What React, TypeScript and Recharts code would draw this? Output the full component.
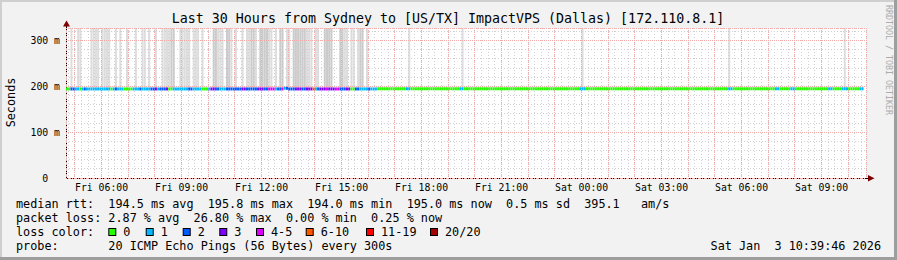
import React from 'react';
import { ComposedChart, Bar, XAxis, YAxis, CartesianGrid } from 'recharts';

// 5 minute steps from Fri 04:40 to Sat 10:40
const STEP_COUNT = 360;
const STEP_MIN = 5;

// [firstStep, lastStep, lossClass]
const lossRuns: [number, number, number][] = [
  [0, 1, 0], [2, 3, 2], [4, 5, 1], [6, 6, 0], [7, 7, 1], [8, 8, 2], [9, 19, 1],
  [20, 20, 0], [21, 21, 1], [22, 22, 2], [23, 25, 1], [26, 29, 0], [30, 32, 1],
  [33, 33, 2], [34, 37, 1], [38, 39, 2], [40, 40, 3], [41, 41, 1], [42, 44, 2],
  [45, 45, 3], [46, 47, 0], [48, 54, 1], [55, 56, 2], [57, 60, 1], [61, 63, 0],
  [64, 64, 1], [65, 66, 3], [67, 68, 2], [69, 71, 1], [72, 78, 2], [79, 80, 3],
  [81, 85, 2], [86, 88, 3], [89, 90, 2], [91, 93, 4], [94, 94, 1], [95, 96, 2],
  [97, 97, 4], [98, 98, 1], [99, 102, 2], [103, 105, 3], [106, 107, 2],
  [108, 110, 3], [111, 111, 5], [112, 112, 1], [113, 113, 2], [114, 116, 3],
  [117, 117, 4], [118, 120, 3], [121, 122, 4], [123, 125, 2], [126, 127, 3],
  [128, 129, 0], [130, 131, 2], [132, 135, 1], [136, 136, 2], [137, 139, 1],
  [140, 152, 0], [153, 154, 1], [155, 176, 0], [177, 178, 1], [179, 230, 0],
  [231, 233, 1], [234, 297, 0], [298, 299, 1], [300, 318, 0], [319, 320, 1],
  [321, 325, 0], [326, 327, 1], [328, 342, 0], [343, 344, 1], [345, 348, 0],
  [349, 351, 1], [352, 356, 0], [357, 358, 1],
];

// [firstStep, lastStep, median ms]
const medianRuns: [number, number, number][] = [
  [0, 97, 194.3], [98, 99, 195.8], [100, 139, 194.3], [140, 358, 194.7],
];

// [firstStep, lastStep, shade] - smoke reaching past the top of the graph
const smokeRuns: [number, number, number][] = [
  [2, 2, 1], [5, 5, 1], [6, 6, 1], [11, 14, 1], [16, 19, 1], [22, 22, 1], [24, 24, 1],
  [27, 27, 1], [31, 31, 1], [34, 35, 1], [37, 37, 1], [40, 40, 1], [43, 46, 1],
  [47, 48, 2], [51, 55, 1], [57, 59, 1], [61, 61, 1], [66, 67, 2], [68, 70, 1],
  [72, 73, 2], [74, 74, 1], [76, 76, 1], [79, 79, 1], [81, 82, 1], [83, 84, 2],
  [85, 85, 1], [87, 90, 2], [91, 92, 1], [94, 94, 1], [96, 97, 2], [99, 100, 1],
  [102, 107, 2], [108, 110, 1], [112, 113, 1], [116, 119, 2], [123, 124, 2],
  [125, 126, 1], [128, 129, 1], [131, 131, 1], [132, 133, 2], [135, 135, 1],
  [154, 154, 1], [178, 178, 1], [232, 232, 1], [298, 298, 1], [350, 350, 1],
];
const SMOKE_FLOOR = 197;
const SMOKE_TOP = 340;

const lossLabels = ['0', '1', '2', '3', '4-5', '6-10', '11-19', '20/20'];
const lossColors = ['#26ff00', '#00b8ff', '#0059ff', '#7e00ff', '#dd00ff', '#ff5500', '#ff0000', '#a10000'];
const smokeShades = ['none', '#dddddd', '#cbcbcb'];

// minutes after Fri 04:40
const timeTicks = [80, 260, 440, 620, 800, 980, 1160, 1340, 1520, 1700];
const timeLabels = ['Fri 06:00', 'Fri 09:00', 'Fri 12:00', 'Fri 15:00', 'Fri 18:00', 'Fri 21:00', 'Sat 00:00', 'Sat 03:00', 'Sat 06:00', 'Sat 09:00'];
const hourTicks = Array.from({ length: 30 }, (_, k) => 20 + 60 * k);
const quarterTicks = Array.from({ length: 120 }, (_, k) => 5 + 15 * k);

const valueTicks = [0, 100, 200, 300];
const valueLabels = ['0  ', '100 m', '200 m', '300 m'];
const minorValueTicks = [20, 40, 60, 80, 120, 140, 160, 180, 220, 240, 260, 280, 320];
const Y_MAX = 327.3;

const medianLegend = 'median rtt:  194.5 ms avg  195.8 ms max  194.0 ms min  195.0 ms now  0.5 ms sd  395.1   am/s';
const lossLegend = 'packet loss: 2.87 % avg  26.80 % max  0.00 % min  0.25 % now';
const probeLegend = 'probe:       20 ICMP Echo Pings (56 Bytes) every 300s';
const stamp = 'Sat Jan  3 10:39:46 2026';
const title = 'Last 30 Hours from Sydney to [US/TX] ImpactVPS (Dallas) [172.110.8.1]';

const FONT = '"DejaVu Sans Mono", monospace';

type Row = { i: number; t: number; loss: number | null; median: number | null; smoke: [number, number] | null; shade: number };

const rows: Row[] = Array.from({ length: STEP_COUNT }, (_, i) => ({ i, t: i * STEP_MIN, loss: null, median: null, smoke: null, shade: 0 }));
lossRuns.forEach(([a, b, c]) => { for (let k = a; k <= b; k++) rows[k].loss = c; });
medianRuns.forEach(([a, b, m]) => { for (let k = a; k <= b; k++) rows[k].median = m; });
smokeRuns.forEach(([a, b, s]) => {
  for (let k = a; k <= b; k++) { rows[k].smoke = [SMOKE_FLOOR, SMOKE_TOP]; rows[k].shade = s; }
});

// median drawn as a short thick segment per step, coloured by loss
const MedianMark = (props: any) => {
  const { x, y, width, payload } = props;
  if (payload == null || payload.median == null || payload.loss == null) return null;
  return <rect x={x} y={y - 1.5} width={width} height={3} fill={lossColors[payload.loss]} />;
};

const SmokeMark = (props: any) => {
  const { x, y, width, height, payload } = props;
  if (payload == null || !payload.shade) return null;
  return <rect x={x} y={y} width={width} height={height} fill={smokeShades[payload.shade]} />;
};

const TimeTick = (props: any) => {
  const { x, y, payload } = props;
  const idx = timeTicks.indexOf(payload.value);
  return (
    <text x={x} y={y + 13} textAnchor="middle" fontFamily={FONT} fontSize={9.8} fill="#000" xmlSpace="preserve">
      {timeLabels[idx]}
    </text>
  );
};

const ValueTick = (props: any) => {
  const { x, y, payload } = props;
  const idx = valueTicks.indexOf(payload.value);
  return (
    <text x={x} y={y + 3.5} textAnchor="end" fontFamily={FONT} fontSize={9.8} fill="#000" xmlSpace="preserve">
      {valueLabels[idx]}
    </text>
  );
};

const legendBoxX = [108.3, 145.7, 182.7, 219.3, 256, 305.7, 366, 430];

export default function App() {
  return (
    <div style={{ position: 'absolute', left: 0, top: 0, width: 897, height: 260, background: '#f2f2f2', overflow: 'hidden' }}>
      <style>{`.recharts-cartesian-grid line, .recharts-cartesian-axis-line { shape-rendering: crispEdges; }`}</style>
      <ComposedChart
        width={897}
        height={260}
        data={rows}
        margin={{ top: 28, right: 31, bottom: 62, left: 6 }}
        barCategoryGap={0}
        barGap={0}
      >
        <CartesianGrid xAxisId="time" yAxisId="val" horizontal={false} vertical={false} fill="#ffffff" stroke="none" />
        <XAxis
          xAxisId="time"
          dataKey="t"
          type="number"
          scale="linear"
          domain={[0, 1800]}
          allowDataOverflow
          ticks={timeTicks}
          interval={0}
          height={20}
          tickSize={0}
          tickMargin={0}
          tickLine={false}
          axisLine={{ stroke: '#000' }}
          tick={<TimeTick />}
        />
        <XAxis xAxisId="smokeX" dataKey="i" type="category" height={0} hide />
        <XAxis xAxisId="lineX" dataKey="i" type="category" height={0} hide />
        <XAxis xAxisId="hour" dataKey="t" type="number" scale="linear" domain={[0, 1800]} allowDataOverflow ticks={hourTicks} interval={0} height={0} hide />
        <XAxis xAxisId="quarter" dataKey="t" type="number" scale="linear" domain={[0, 1800]} allowDataOverflow ticks={quarterTicks} interval={0} height={0} hide />
        <YAxis
          yAxisId="val"
          type="number"
          domain={[0, Y_MAX]}
          allowDataOverflow
          ticks={valueTicks}
          interval={0}
          width={60}
          tickSize={3}
          tickMargin={3}
          tickLine={false}
          axisLine={{ stroke: '#000' }}
          tick={<ValueTick />}
        />
        <YAxis yAxisId="minorY" type="number" domain={[0, Y_MAX]} allowDataOverflow ticks={minorValueTicks} interval={0} width={0} hide />
        <Bar
          xAxisId="smokeX"
          yAxisId="val"
          dataKey="smoke"
          barSize={2.4}
          shape={<SmokeMark />}
          isAnimationActive={false}
        />
        <CartesianGrid xAxisId="quarter" yAxisId="minorY" stroke="#d0d0d0" strokeDasharray="1 2" fill="none" zIndex={600} />
        <CartesianGrid xAxisId="hour" yAxisId="val" stroke="#f5aaaa" strokeDasharray="1 1" fill="none" zIndex={601} />
        <Bar
          xAxisId="lineX"
          yAxisId="val"
          dataKey="median"
          barSize={2.4}
          shape={<MedianMark />}
          isAnimationActive={false}
          zIndex={700}
        />
      </ComposedChart>
      <svg width={897} height={260} style={{ position: 'absolute', left: 0, top: 0, pointerEvents: 'none' }}>
        <rect x={0} y={0} width={897} height={2} fill="#cfcfcf" />
        <rect x={0} y={0} width={2} height={260} fill="#cfcfcf" />
        <rect x={0} y={257} width={897} height={3} fill="#9e9e9e" />
        <rect x={894} y={0} width={3} height={260} fill="#9e9e9e" />
        <text x={448} y={23} textAnchor="middle" fontFamily={FONT} fontSize={13.3} fill="#000" xmlSpace="preserve">{title}</text>
        <line x1={66} y1={24} x2={66} y2={28} stroke="#000" shapeRendering="crispEdges" />
        <line x1={866} y1={178} x2={869} y2={178} stroke="#000" shapeRendering="crispEdges" />
        <polygon points="63,26.5 70,26.5 66.5,20.5" fill="#800000" />
        <polygon points="868,175 868,181.5 874.5,178.2" fill="#800000" />
        <text transform="translate(15,102.5) rotate(-90)" textAnchor="middle" fontFamily={FONT} fontSize={11.8} fill="#000">Seconds</text>
        <text transform="translate(886,5) rotate(90)" fontFamily={FONT} fontSize={8.3} fill="#ababab" xmlSpace="preserve">RRDTOOL / TOBI OETIKER</text>
        <g fontFamily={FONT} fontSize={11.8} fill="#000">
          <text x={16} y={208.3} xmlSpace="preserve">{medianLegend}</text>
          <text x={16} y={222.3} xmlSpace="preserve">{lossLegend}</text>
          <text x={16} y={236.3} xmlSpace="preserve">loss color:</text>
          {lossLabels.map((lab, k) => (
            <g key={lab}>
              <rect x={legendBoxX[k] + 0.5} y={228.5} width={7} height={7} fill={lossColors[k]} stroke="#000" strokeWidth={1} />
              <text x={legendBoxX[k] + 15} y={236.3}>{lab}</text>
            </g>
          ))}
          <text x={16} y={250.3} xmlSpace="preserve">{probeLegend}</text>
          <text x={881} y={250.3} textAnchor="end" xmlSpace="preserve">{stamp}</text>
        </g>
      </svg>
    </div>
  );
}
